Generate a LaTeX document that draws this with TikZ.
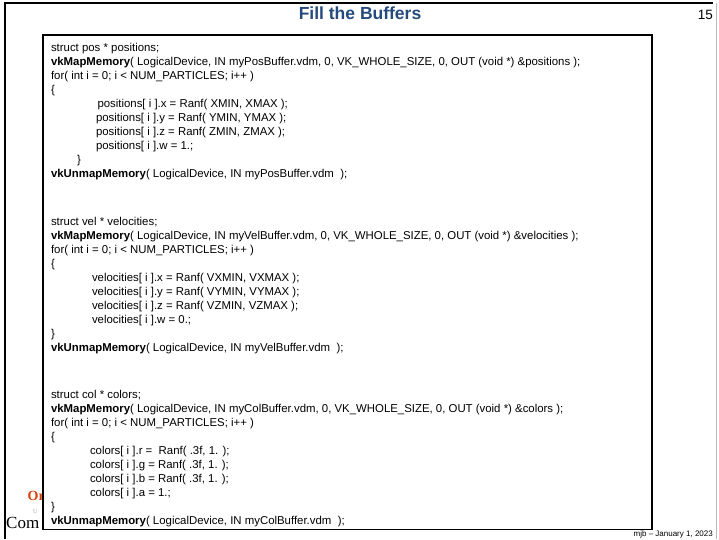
\documentclass[tikz,border=0pt]{standalone}
\usepackage{fontspec}
\setmainfont{Liberation Serif}
\newfontfamily\arialfont{Liberation Sans}
\definecolor{titleblue}{RGB}{36,74,126}
\definecolor{osuorange}{RGB}{215,63,9}
\newcommand{\codesize}{\arialfont\fontsize{11.4}{14}\selectfont}
\tikzset{
  codeline/.style={font=\codesize, anchor=base west, inner sep=0pt, outer sep=0pt},
  framebar/.style={line width=2.6pt, black},
  codebox/.style={draw=black, line width=1.1pt, fill=white},
}
\begin{document}
\begin{tikzpicture}[x=1pt, y=-1pt]
\useasboundingbox (0,0) rectangle (719,539);
% slide frame
\draw[framebar] (4,3) -- (713,3);
\draw[framebar] (5,2) -- (5,539);
\draw[gray!55, line width=0.9pt] (716.5,3) -- (716.5,539);
% footer texts at the left edge, cut off by the code box
\node[anchor=base west, inner sep=0pt, text=osuorange, font=\bfseries\fontsize{14}{14}\selectfont] (osu) at (27.5,500) {Or};
\node[anchor=base west, inner sep=0pt, text=gray!70, font=\fontsize{6}{6}\selectfont] (univ) at (33,513) {U};
\node[anchor=base west, inner sep=0pt, font=\fontsize{17}{17}\selectfont] (cg) at (6,528) {Com};
\node[anchor=base east, inner sep=0pt, font=\arialfont\fontsize{8}{8}\selectfont] (date) at (713,536) {mjb – January 1, 2023};
% code box
\draw[codebox] (43,35) rectangle (652,529.5);
% title and page number
\node[anchor=base, inner sep=0pt, text=titleblue, font=\arialfont\bfseries\fontsize{17.5}{17.5}\selectfont] (title) at (360,19) {Fill the Buffers};
\node[anchor=base east, inner sep=0pt, font=\arialfont\fontsize{13.5}{13.5}\selectfont] (page) at (713,19) {15};
% positions block
\node[codeline] (l1)  at (51,51.5)  {struct pos * positions;};
\node[codeline] (l2)  at (51,65.5)  {\textbf{vkMapMemory}( LogicalDevice, IN myPosBuffer.vdm, 0, VK\_WHOLE\_SIZE, 0, OUT (void *) \&positions );};
\node[codeline] (l3)  at (51,79.5)  {for( int i = 0; i < NUM\_PARTICLES; i++ )};
\node[codeline] (l4)  at (51,93.5)  {\{};
\node[codeline] (l5)  at (97.5,107.5) {positions[ i ].x = Ranf( XMIN, XMAX );};
\node[codeline] (l6)  at (96,121.5) {positions[ i ].y = Ranf( YMIN, YMAX );};
\node[codeline] (l7)  at (96,135.5) {positions[ i ].z = Ranf( ZMIN, ZMAX );};
\node[codeline] (l8)  at (96,149.5) {positions[ i ].w = 1.;};
\node[codeline] (l9)  at (77,163.5) {\}};
\node[codeline] (l10) at (51,177.5) {\textbf{vkUnmapMemory}( LogicalDevice, IN myPosBuffer.vdm\ \ );};
% velocities block
\node[codeline] (l11) at (51,225)   {struct vel * velocities;};
\node[codeline] (l12) at (51,239)   {\textbf{vkMapMemory}( LogicalDevice, IN myVelBuffer.vdm, 0, VK\_WHOLE\_SIZE, 0, OUT (void *) \&velocities );};
\node[codeline] (l13) at (51,253)   {for( int i = 0; i < NUM\_PARTICLES; i++ )};
\node[codeline] (l14) at (51,267)   {\{};
\node[codeline] (l15) at (92,281)   {velocities[ i ].x = Ranf( VXMIN, VXMAX );};
\node[codeline] (l16) at (92,295)   {velocities[ i ].y = Ranf( VYMIN, VYMAX );};
\node[codeline] (l17) at (92,309)   {velocities[ i ].z = Ranf( VZMIN, VZMAX );};
\node[codeline] (l18) at (92,323)   {velocities[ i ].w = 0.;};
\node[codeline] (l19) at (51,337)   {\}};
\node[codeline] (l20) at (51,351)   {\textbf{vkUnmapMemory}( LogicalDevice, IN myVelBuffer.vdm\ \ );};
% colors block
\node[codeline] (l21) at (51,398.5) {struct col * colors;};
\node[codeline] (l22) at (51,412.5) {\textbf{vkMapMemory}( LogicalDevice, IN myColBuffer.vdm, 0, VK\_WHOLE\_SIZE, 0, OUT (void *) \&colors );};
\node[codeline] (l23) at (51,426.5) {for( int i = 0; i < NUM\_PARTICLES; i++ )};
\node[codeline] (l24) at (51,440.5) {\{};
\node[codeline] (l25) at (90,454.5) {colors[ i ].r =\ \ Ranf( .3f, 1. );};
\node[codeline] (l26) at (90,468.5) {colors[ i ].g = Ranf( .3f, 1. );};
\node[codeline] (l27) at (90,482.5) {colors[ i ].b = Ranf( .3f, 1. );};
\node[codeline] (l28) at (90,496.5) {colors[ i ].a = 1.;};
\node[codeline] (l29) at (51,510.5) {\}};
\node[codeline] (l30) at (51,524.5) {\textbf{vkUnmapMemory}( LogicalDevice, IN myColBuffer.vdm\ \ );};
\end{tikzpicture}
\end{document}
